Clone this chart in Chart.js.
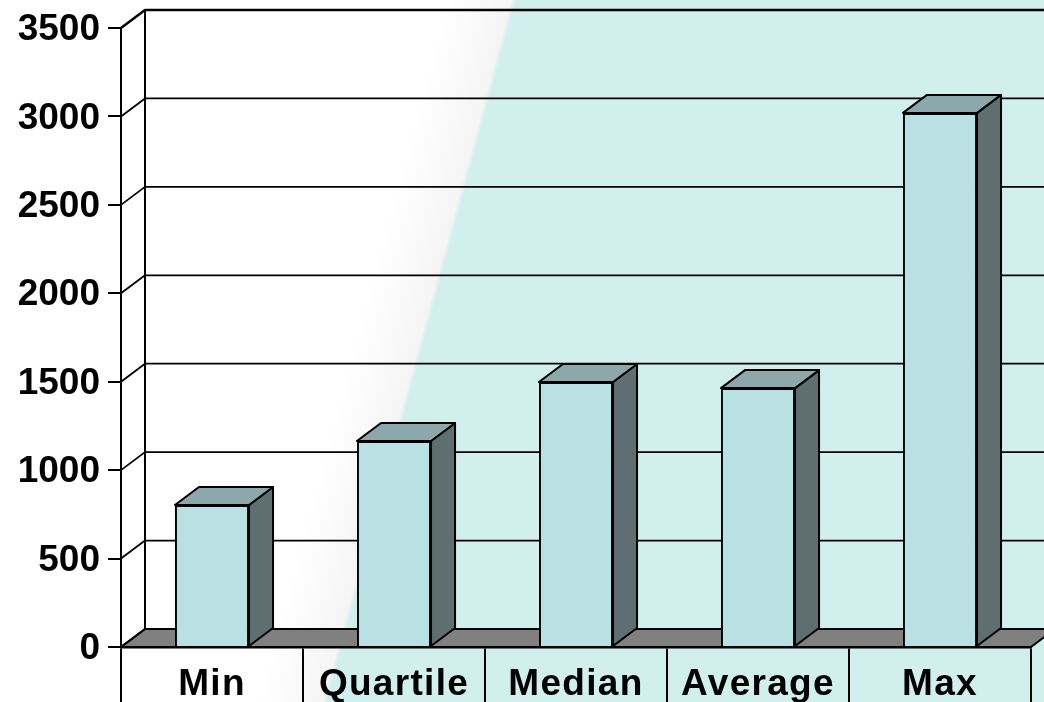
<!DOCTYPE html>
<html lang="en">
  <head>
    <meta charset="UTF-8" />
    <title>Summary statistics</title>
    <script src="https://cdnjs.cloudflare.com/ajax/libs/Chart.js/4.4.1/chart.umd.min.js"></script>
    <style>
      html, body { margin: 0; padding: 0; background: #fff; overflow: hidden; }
      canvas { display: block; }
    </style>
  </head>
  <body>
    <canvas id="myChart" width="1044" height="702"></canvas>
  </body>
  <script>
    const categories = ["Min", "Quartile", "Median", "Average", "Max"];
    const values = [803, 1165, 1498, 1464, 3020];
    const tickStep = 500;
    const axisMax = 3500;

    // offset of the back wall and of each bar's rear face
    const depthX = 24;
    const depthY = -18;

    const FONT = { family: "'Liberation Sans', Arial, sans-serif", size: 37, weight: "bold" };

    function quad(ctx, pts, fill) {
      ctx.beginPath();
      pts.forEach((p, i) => (i ? ctx.lineTo(p[0], p[1]) : ctx.moveTo(p[0], p[1])));
      ctx.closePath();
      if (fill) {
        ctx.fillStyle = fill;
        ctx.fill();
      }
      ctx.stroke();
    }

    const backdrop = {
      id: "backdrop",
      beforeDraw(chart) {
        const { ctx, width, height, chartArea: area, scales } = chart;

        // white to teal sweep with a sharp diagonal edge
        const nx = 0.966, ny = 0.26;
        const ex = 515, ey = 0;
        const reach = 120;
        const g = ctx.createLinearGradient(ex - nx * reach, ey - ny * reach, ex + nx * reach, ey + ny * reach);
        g.addColorStop(0, "#ffffff");
        g.addColorStop(0.22, "#ffffff");
        g.addColorStop(0.485, "#f5f5f5");
        g.addColorStop(0.505, "#d1efed");
        g.addColorStop(1, "#d1efed");
        ctx.save();
        ctx.fillStyle = g;
        ctx.fillRect(0, 0, width, height);

        ctx.strokeStyle = "#000";
        ctx.lineWidth = 2;
        ctx.lineJoin = "round";

        // floor
        quad(ctx, [
          [area.left, area.bottom],
          [area.right, area.bottom],
          [area.right + depthX, area.bottom + depthY],
          [area.left + depthX, area.bottom + depthY],
        ], "#808080");

        // wall lines for each tick, with the slanted piece on the side wall
        scales.y.ticks.forEach((t, i) => {
          const y = scales.y.getPixelForTick(i);
          ctx.lineWidth = i === scales.y.ticks.length - 1 ? 2.5 : 1.8;
          ctx.beginPath();
          ctx.moveTo(area.left, y);
          ctx.lineTo(area.left + depthX, y + depthY);
          ctx.lineTo(area.right + depthX, y + depthY);
          ctx.stroke();
        });

        ctx.lineWidth = 2;
        ctx.beginPath();
        ctx.moveTo(area.left + depthX, area.top + depthY);
        ctx.lineTo(area.left + depthX, area.bottom + depthY);
        ctx.stroke();
        ctx.restore();
      },
      afterDatasetsDraw(chart) {
        const { ctx } = chart;
        ctx.save();
        ctx.strokeStyle = "#000";
        ctx.lineWidth = 2;
        ctx.lineJoin = "round";
        chart.getDatasetMeta(0).data.forEach((bar) => {
          const l = bar.x - bar.width / 2;
          const r = bar.x + bar.width / 2;
          // side face
          quad(ctx, [
            [r, bar.y],
            [r + depthX, bar.y + depthY],
            [r + depthX, bar.base + depthY],
            [r, bar.base],
          ], "#5f6e71");
          // top face
          quad(ctx, [
            [l, bar.y],
            [l + depthX, bar.y + depthY],
            [r + depthX, bar.y + depthY],
            [r, bar.y],
          ], "#8ca8aa");
        });
        ctx.restore();
      },
    };

    // category labels are set slightly wider than the value labels
    const spacedLabels = {
      id: "spacedLabels",
      afterLayout(chart) {
        const x = chart.scales.x;
        if (x._spaced) return;
        const drawLabels = x.drawLabels;
        x.drawLabels = function (area) {
          chart.ctx.letterSpacing = "1.3px";
          drawLabels.call(this, area);
          chart.ctx.letterSpacing = "0px";
        };
        x._spaced = true;
      },
    };

    new Chart("myChart", {
      type: "bar",
      data: {
        labels: categories,
        datasets: [
          {
            data: values,
            backgroundColor: "#b9e0e3",
            borderColor: "#000",
            borderWidth: 2,
            barPercentage: 0.407,
            categoryPercentage: 1,
          },
        ],
      },
      options: {
        responsive: false,
        animation: false,
        layout: { padding: { top: 28, right: 13, left: 0, bottom: 0 } },
        plugins: { legend: { display: false }, tooltip: { enabled: false }, title: { display: false } },
        scales: {
          x: {
            afterFit: (s) => { s.height = 55; },
            border: { display: true, color: "#000", width: 2.5 },
            grid: {
              offset: true,
              drawOnChartArea: false,
              drawTicks: true,
              tickLength: 55,
              color: "#000",
              lineWidth: 2,
            },
            ticks: {
              color: "#000",
              font: FONT,
              padding: -39,
              autoSkip: false,
              maxRotation: 0,
            },
          },
          y: {
            min: 0,
            max: axisMax,
            afterFit: (s) => {
              s.width = 121;
              s.paddingTop = 0;
              s.paddingBottom = 0;
            },
            border: { display: true, color: "#000", width: 2 },
            grid: {
              drawOnChartArea: false,
              drawTicks: true,
              tickLength: 13,
              color: "#000",
              lineWidth: 2,
            },
            ticks: {
              stepSize: tickStep,
              color: "#000",
              font: FONT,
              padding: 8,
              labelOffset: 2,
              callback: (v) => String(v),
            },
          },
        },
      },
      plugins: [backdrop, spacedLabels],
    });
  </script>
</html>
